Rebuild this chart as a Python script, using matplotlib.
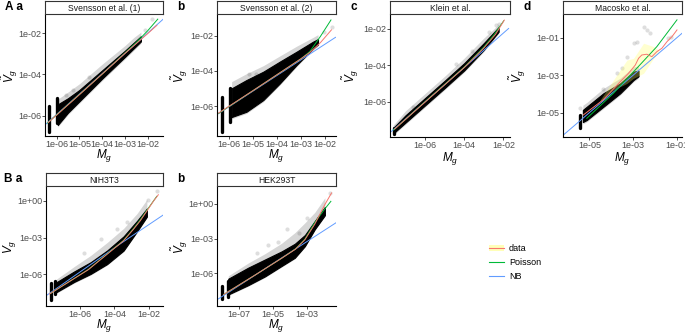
import matplotlib
matplotlib.use("Agg")
import matplotlib.pyplot as plt
import numpy as np
from matplotlib.lines import Line2D
from matplotlib.patches import Patch

plt.rcParams["font.family"] = ["Liberation Sans", "DejaVu Sans"]
plt.rcParams["mathtext.fontset"] = "custom"
plt.rcParams["mathtext.it"] = "Liberation Sans:italic"
plt.rcParams["mathtext.rm"] = "Liberation Sans"

W, H = 685, 334

# all values are log10 of M_g (x) and V_g (y)

# --- A a: Svensson et al. (1)
aa_core_x = [-5.95, -5.5, -5.0, -4.0, -3.0, -2.6, -2.3]
aa_core_lo = [-6.45, -5.85, -5.3, -4.2, -3.15, -2.72, -2.4]
aa_core_hi = [-5.45, -5.15, -4.75, -3.8, -2.85, -2.45, -2.15]
aa_halo_hi = [-5.2, -4.85, -4.45, -3.5, -2.6, -2.2, -1.95]
aa_stripe_x = [-6.33, -6.0]
aa_stripe_lo = [-6.77, -6.36]
aa_stripe_hi = [-5.55, -5.14]
aa_out_x = [-5.27, -5.6, -4.6, -1.82, -2.1]
aa_out_y = [-4.77, -5.0, -4.1, -1.32, -1.85]
aa_data_x = [-6.37, -5.0, -4.0, -3.0, -2.5, -2.0, -1.6]
aa_data_y = [-6.33, -4.98, -3.98, -2.98, -2.5, -2.02, -1.62]
aa_pois_x = [-6.4, -4.0, -2.5, -2.0, -1.56]
aa_pois_y = [-6.35, -3.98, -2.45, -1.88, -1.32]
aa_nb_x = [-6.51, -1.33]
aa_nb_y = [-6.44, -1.33]

# --- A b: Svensson et al. (2)
ab_core_x = [-5.9, -5.28, -4.58, -3.89, -3.19, -2.5, -2.3]
ab_core_lo = [-6.6, -6.3, -5.64, -4.7, -3.66, -2.72, -2.5]
ab_core_hi = [-4.98, -4.51, -4.04, -3.47, -2.91, -2.34, -2.2]
ab_halo_hi = [-4.6, -4.15, -3.7, -3.15, -2.6, -2.1, -1.95]
ab_stripe_x = [-6.32, -5.97]
ab_stripe_lo = [-7.43, -6.86]
ab_stripe_hi = [-5.45, -4.98]
ab_out_x = [-5.18, -4.89, -1.73, -2.05]
ab_out_y = [-4.17, -4.17, -1.5, -1.8]
ab_data_x = [-6.45, -5.0, -4.0, -3.0, -2.64, -2.2, -1.74]
ab_data_y = [-6.38, -5.1, -4.2, -3.3, -2.95, -2.4, -1.68]
ab_pois_x = [-6.45, -5.0, -4.0, -3.0, -2.64, -2.2, -1.76]
ab_pois_y = [-6.4, -5.1, -4.2, -3.3, -2.9, -2.05, -1.12]
ab_nb_x = [-6.48, -1.57]
ab_nb_y = [-6.43, -2.1]

# --- A c: Klein et al.
ac_core_x = [-7.63, -7.0, -6.0, -5.0, -4.0, -3.0, -2.24]
ac_core_lo = [-7.75, -7.15, -6.2, -5.25, -4.28, -3.15, -2.15]
ac_core_hi = [-7.45, -6.75, -5.8, -4.85, -3.88, -2.78, -1.9]
ac_halo_hi = [-7.3, -6.5, -5.55, -4.6, -3.6, -2.5, -1.75]
ac_stripe_x = [-7.6]
ac_stripe_lo = [-7.78]
ac_stripe_hi = [-7.45]
ac_out_x = [-6.63, -2.75, -2.4, -2.2, -3.6, -4.4]
ac_out_y = [-6.31, -2.15, -1.8, -1.7, -3.2, -3.95]
ac_data_x = [-7.55, -6.0, -4.0, -3.0, -2.4, -1.95]
ac_data_y = [-7.5, -6.02, -4.12, -3.05, -2.3, -1.51]
ac_pois_x = [-7.6, -6.0, -4.0, -3.0, -2.5, -1.98]
ac_pois_y = [-7.55, -6.0, -4.1, -3.0, -2.35, -1.55]
ac_nb_x = [-7.79, -1.73]
ac_nb_y = [-7.7, -1.97]

# --- A d: Macosko et al.
ad_core_x = [-5.3, -5.12, -4.36, -3.59, -2.98, -2.75]
ad_core_lo = [-5.5, -5.39, -4.68, -3.96, -3.25, -3.05]
ad_core_hi = [-4.85, -4.68, -3.96, -3.43, -2.8, -2.75]
ad_halo_hi = [-4.6, -4.45, -3.7, -3.15, -2.55, -2.5]
ad_stripe_x = [-5.43]
ad_stripe_lo = [-5.84]
ad_stripe_hi = [-5.12]
ad_out_x = [-5.43, -4.39, -3.74, -3.51, -3.28, -2.98, -2.83, -2.52, -2.37, -2.22, -1.38, -1.25]
ad_out_y = [-4.76, -3.75, -2.89, -2.62, -2.0, -1.28, -1.2, -0.42, -0.57, -0.75, -1.01, -0.95]
ad_rib_x = [-4.5, -3.9, -3.28, -2.98, -2.52, -2.06, -1.83]
ad_rib_lo = [-4.45, -3.78, -3.43, -3.16, -2.89, -2.09, -1.75]
ad_rib_hi = [-4.3, -3.25, -2.18, -2.09, -1.28, -1.46, -1.65]
ad_data_x = [-5.28, -4.36, -3.59, -3.21, -2.9, -2.75, -2.6, -2.37, -2.14, -1.91, -1.68, -1.45, -1.22, -0.99]
ad_data_y = [-5.12, -4.3, -3.34, -2.89, -2.45, -2.09, -1.91, -1.87, -2.0, -1.73, -1.55, -1.2, -0.93, -0.57]
ad_pois_x = [-5.12, -3.9, -2.83, -1.91, -0.99]
ad_pois_y = [-5.3, -3.96, -2.62, -1.46, -0.03]
ad_nb_x = [-6.21, -0.76]
ad_nb_y = [-6.21, -0.75]

# --- B a: NIH3T3
ba_core_x = [-7.37, -6.32, -5.37, -4.42, -3.47, -2.7, -2.13]
ba_core_lo = [-7.45, -6.6, -5.95, -5.15, -4.05, -2.5, -1.3]
ba_core_hi = [-6.65, -5.75, -5.0, -4.05, -2.9, -1.65, -0.65]
ba_halo_hi = [-6.4, -5.35, -4.45, -3.4, -2.25, -1.05, 0.09]
ba_stripe_x = [-7.66, -7.41]
ba_stripe_lo = [-8.11, -7.59]
ba_stripe_hi = [-6.66, -6.52]
ba_out_x = [-5.75, -4.8, -3.85, -3.27, -2.04, -1.56]
ba_out_y = [-4.28, -3.09, -2.3, -1.76, 0.09, 0.75]
ba_data_x = [-7.75, -5.5, -3.47, -2.89, -2.51, -2.13, -1.75, -1.47]
ba_data_y = [-7.59, -5.6, -3.25, -2.3, -1.63, -0.84, -0.04, 0.48]
ba_pois_x = [-7.7, -5.5, -3.47, -2.89, -2.51, -2.13, -1.56]
ba_pois_y = [-7.55, -5.58, -3.22, -2.25, -1.55, -0.78, 0.35]
ba_nb_x = [-7.94, -3.66, -1.14]
ba_nb_y = [-7.72, -3.5, -1.12]

# --- B b: HEK293T
bb_core_x = [-7.63, -6.46, -5.48, -4.5, -3.73, -3.14, -2.56, -1.97]
bb_core_lo = [-7.8, -7.0, -6.25, -5.35, -4.65, -3.65, -2.2, -1.0]
bb_core_hi = [-6.45, -5.5, -4.8, -4.1, -3.45, -2.7, -1.5, -0.3]
bb_halo_hi = [-6.2, -5.1, -4.3, -3.4, -2.5, -1.65, -0.75, 0.5]
bb_stripe_x = [-7.98, -7.66]
bb_stripe_lo = [-8.18, -8.03]
bb_stripe_hi = [-7.05, -6.64]
bb_out_x = [-5.97, -5.29, -4.21, -3.04, -1.68, -4.7, -3.5]
bb_out_y = [-4.27, -3.57, -2.18, -1.23, 0.9, -3.3, -2.5]
bb_data_x = [-7.9, -6.0, -4.5, -3.7, -3.14, -2.56, -1.97, -1.58]
bb_data_y = [-7.8, -6.08, -4.69, -3.92, -3.1, -1.76, -0.08, 0.91]
bb_pois_x = [-7.9, -6.0, -4.5, -3.7, -3.14, -2.56, -1.97, -1.62]
bb_pois_y = [-7.8, -6.08, -4.69, -3.9, -3.05, -1.62, -0.45, 0.19]
bb_nb_x = [-8.21, -1.29]
bb_nb_y = [-8.18, -1.62]

titles = ["Svensson et al. (1)", "Svensson et al. (2)", "Klein et al.",
          "Macosko et al.", "NIH3T3", "HEK293T"]
tags = ["A a", "b", "c", "d", "B a", "b"]

# axes box in pixels: left, top, right, bottom
boxes = [(45, 15, 163, 136), (217, 15, 336, 136), (390, 15, 510, 137),
         (563, 15, 682, 137), (46, 187, 163, 306), (217, 187, 336, 306)]
ylab_px = [10, 180, 351, 518, 9, 180]
xlab_py = [156, 156, 158, 158, 326, 326]
xlims = [(-6.51, -1.33), (-6.51, -1.55), (-7.79, -1.66), (-6.21, -0.76),
         (-7.95, -1.2), (-8.29, -1.32)]
ylims = [(-6.98, -1.12), (-7.67, -0.84), (-7.94, -1.23), (-6.30, 0.23),
         (-8.56, 1.11), (-8.79, 1.42)]
xticks = [[-6, -5, -4, -3, -2], [-6, -5, -4, -3, -2], [-6, -4, -2],
          [-5, -3, -1], [-6, -4, -2], [-7, -5, -3]]
yticks = [[-6, -4, -2], [-6, -4, -2], [-6, -4, -2], [-5, -3, -1],
          [-6, -3, 0], [-6, -3, 0]]

col_data = "#F8766D"
col_pois = "#00BA38"
col_nb = "#619CFF"
col_rib = "#FFFF66"

panels = []
for p in ["aa", "ab", "ac", "ad", "ba", "bb"]:
    g = globals()
    panels.append({k: g[p + "_" + k] for k in
                   ["core_x", "core_lo", "core_hi", "halo_hi",
                    "stripe_x", "stripe_lo", "stripe_hi", "out_x", "out_y",
                    "data_x", "data_y", "pois_x", "pois_y", "nb_x", "nb_y"]})
panels[3]["rib"] = (ad_rib_x, ad_rib_lo, ad_rib_hi)


def e(v):
    return np.power(10.0, np.asarray(v, dtype=float))


def lab(v):
    return "1e+00" if v == 0 else "1e-%02d" % (-v)


fig = plt.figure(figsize=(W / 100, H / 100), dpi=100)

for i, d in enumerate(panels):
    l, t, r, b = boxes[i]
    ax = fig.add_axes([l / W, 1 - b / H, (r - l) / W, (b - t) / H])
    ax.set_xscale("log")
    ax.set_yscale("log")

    ax.fill_between(e(d["core_x"]), e(np.array(d["core_lo"]) - 0.1), e(d["halo_hi"]),
                    color="black", alpha=0.16, lw=0)
    ax.fill_between(e(d["core_x"]), e(d["core_lo"]), e(d["core_hi"]),
                    color="black", lw=0.8)
    ax.vlines(e(d["stripe_x"]), e(d["stripe_lo"]), e(d["stripe_hi"]),
              color="black", lw=2.4, capstyle="round")
    ax.scatter(e(d["out_x"]), e(d["out_y"]), s=9, color="black", alpha=0.13, lw=0)
    if "rib" in d:
        rx, rlo, rhi = d["rib"]
        ax.fill_between(e(rx), e(rlo), e(rhi), color=col_rib, alpha=0.3, lw=0)
    ax.plot(e(d["nb_x"]), e(d["nb_y"]), color=col_nb, lw=0.7)
    ax.plot(e(d["pois_x"]), e(d["pois_y"]), color=col_pois, lw=0.7)
    ax.plot(e(d["data_x"]), e(d["data_y"]), color=col_data, lw=0.7)

    ax.set_xlim(e(xlims[i]))
    ax.set_ylim(e(ylims[i]))
    ax.set_xticks(e(xticks[i]))
    ax.set_xticklabels([lab(v) for v in xticks[i]])
    ax.set_yticks(e(yticks[i]))
    ax.set_yticklabels([lab(v) for v in yticks[i]])
    ax.minorticks_off()
    ax.tick_params(labelsize=6.5, colors="#333333", labelcolor="#4D4D4D",
                   length=2, width=0.6, pad=0.8)
    for s in ["top", "right"]:
        ax.spines[s].set_visible(False)
    for s in ["left", "bottom"]:
        ax.spines[s].set_linewidth(0.8)
    ax.set_xlabel(r"$M_g$", fontsize=8.5, va="center")
    ax.set_ylabel(r"$\tilde{V}_g$", fontsize=8.5, va="center")
    ax.yaxis.set_label_coords((ylab_px[i] - l) / (r - l), 0.5)
    ax.xaxis.set_label_coords(0.5, (b - xlab_py[i]) / (b - t))

    # facet strip
    sx = fig.add_axes([l / W, 1 - (t - 1) / H, (r - l) / W, 13 / H])
    sx.set_xticks([])
    sx.set_yticks([])
    for s in sx.spines.values():
        s.set_linewidth(0.8)
        s.set_color("#333333")
    sx.text(0.5, 0.45, titles[i], ha="center", va="center", fontsize=6.2,
            color="#1A1A1A", transform=sx.transAxes)

    fig.text((boxes[i][0] - 40 - (2 if i == 4 else 0)) / W, 1 - (t - 8) / H,
             tags[i], fontsize=8.5, fontweight="bold", ha="left", va="center")

handles = [(Patch(facecolor="#FFFFB8", edgecolor="none"),
            Line2D([], [], color=col_data, lw=0.8)),
           Line2D([], [], color=col_pois, lw=0.8),
           Line2D([], [], color=col_nb, lw=0.8)]
fig.legend(handles, ["data", "Poisson", "NB"], loc="upper left",
           bbox_to_anchor=(481 / W, 1 - 236 / H), frameon=False, fontsize=6.5,
           handlelength=1.6, handletextpad=0.6, labelspacing=0.55)

fig.savefig("out.png", dpi=100)
